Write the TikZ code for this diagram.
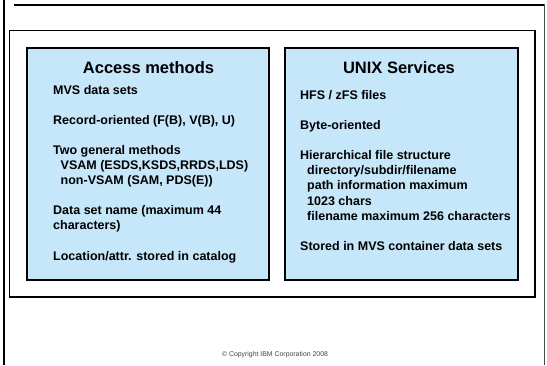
\documentclass[tikz,border=0pt]{standalone}
\usepackage{fontspec}
\setmainfont{Liberation Sans}
\definecolor{boxblue}{RGB}{198,230,250}
\definecolor{copygray}{RGB}{70,70,70}
\begin{document}
\begin{tikzpicture}[x=1pt,y=-1pt,
  thickline/.style={draw=black, line width=2pt},
  panel/.style={draw=black, line width=2pt, fill=boxblue},
  frameline/.style={draw=black, line width=1.8pt},
  titletext/.style={anchor=base, inner sep=0pt, font=\fontsize{16.5}{18}\selectfont\bfseries},
  bodytext/.style={anchor=base west, inner sep=0pt},
  copytext/.style={anchor=base, inner sep=0pt, text=copygray, font=\fontsize{6.9}{8}\selectfont}]
\useasboundingbox (0,0) rectangle (547,365);
\fill[white] (0,0) rectangle (547,365);
% page lines
\draw[thickline] (3.5,0) -- (3.5,365);
\draw[thickline] (14,5) -- (544.5,5);
\draw[draw=black!70, line width=1pt] (544.5,4) -- (544.5,365);
% frame
\draw[frameline] (9.5,30.5) rectangle (535,297);
% panels
\draw[panel] (27,48) rectangle (269,280);
\draw[panel] (285,48) rectangle (518,280);
% titles
\node[titletext] (t1) at (148.5,73.3) {Access methods};
\node[titletext] (t2) at (399,73.3) {UNIX Services};
% bodies
\node[bodytext] (b1) at (53,94) {\parbox[t]{212pt}{\raggedright\fontsize{12.5}{15.1}\selectfont\bfseries
MVS data sets\\[15.1pt]
Record-oriented (F(B), V(B), U)\\[15.1pt]
Two general methods\\
\hspace*{7.5pt}VSAM (ESDS,KSDS,RRDS,LDS)\\
\hspace*{7.5pt}non-VSAM (SAM, PDS(E))\\[15.1pt]
Data set name (maximum 44\\
characters)\\[15.1pt]
Location/attr. stored in catalog}};
\node[bodytext] (b2) at (300,99.3) {\parbox[t]{215pt}{\raggedright\fontsize{12.5}{15.1}\selectfont\bfseries
HFS / zFS files\\[15.1pt]
Byte-oriented\\[15.1pt]
Hierarchical file structure\\
\hspace*{7pt}directory/subdir/filename\\
\hspace*{7pt}path information maximum\\
\hspace*{7pt}1023 chars\\
\hspace*{7pt}filename maximum 256 characters\\[15.1pt]
Stored in MVS container data sets}};
% copyright
\node[copytext] (copy) at (275,356.5) {\textcopyright\ Copyright IBM Corporation 2008};
\end{tikzpicture}
\end{document}
